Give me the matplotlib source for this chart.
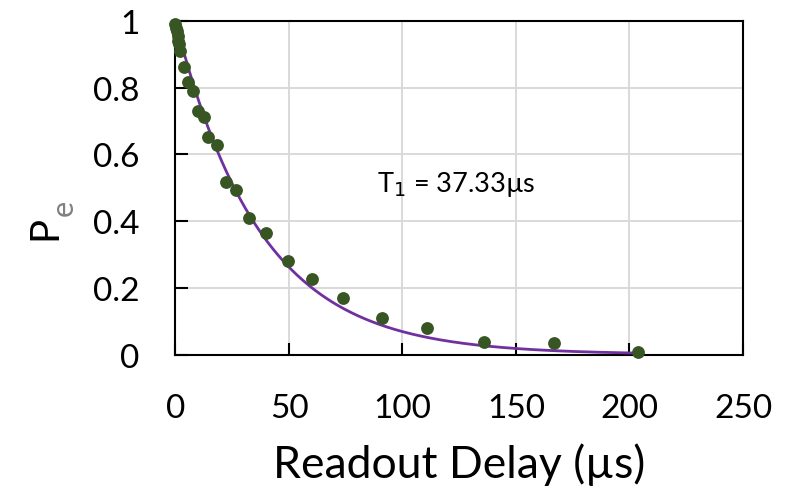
import numpy as np
import matplotlib
matplotlib.use("Agg")
from matplotlib import pyplot as plt

# dados (atraso em us, populacao excitada)
atraso = [0, 0.3, 0.6, 1.0, 1.3, 1.7, 2.0, 3.9, 5.4, 7.8, 10.0, 12.7, 14.4, 18.1,
          22.2, 26.7, 32.4, 39.9, 49.4, 60.1, 74.0, 91.0, 110.7, 136.0, 166.9, 203.9]
p_e = [0.99, 0.98, 0.97, 0.955, 0.94, 0.93, 0.911, 0.861, 0.816, 0.791, 0.731, 0.711,
       0.651, 0.628, 0.518, 0.494, 0.409, 0.364, 0.281, 0.226, 0.169, 0.109, 0.079,
       0.038, 0.034, 0.008]

# ajuste exponencial
T1 = 37.33
t_fit = np.linspace(0, 203.9, 400)
p_fit = np.exp(-t_fit / T1)

x_ticks = [0, 50, 100, 150, 200, 250]
y_ticks = [0, 0.2, 0.4, 0.6, 0.8, 1]
y_labels = ["0", "0.2", "0.4", "0.6", "0.8", "1"]

plt.rcParams['font.family'] = ['Lato', 'DejaVu Sans']

fig = plt.figure(figsize=(7.97, 4.89), dpi=100)
ax = fig.add_axes([0.2202, 0.273, 0.712, 0.682])

ax.plot(t_fit, p_fit, color='#7030A0', lw=2.0, zorder=3)
ax.plot(atraso, p_e, 'o', color='#375623', ms=8.2, zorder=4, clip_on=False)

ax.set_xlim(0, 250)
ax.set_ylim(0, 1)
ax.set_xticks(x_ticks)
ax.set_yticks(y_ticks)
ax.set_yticklabels(y_labels)
ax.grid(True, color='#d9d9d9', lw=1.4)
ax.set_axisbelow(True)

for s in ax.spines.values():
    s.set_linewidth(1.5)
    s.set_color('black')

ax.tick_params(axis='both', direction='in', length=9, width=1.5,
               labelsize=24, colors='black')
ax.tick_params(axis='x', pad=28)
ax.tick_params(axis='y', pad=26)

ax.set_xlabel("Readout Delay (µs)", fontsize=32, labelpad=14)

# rotulo do eixo y: P com indice e em cinza
fig.text(45 / 797, 1 - 228 / 489, "P", rotation=90, fontsize=29,
         ha='center', va='center')
fig.text(64 / 797, 1 - 208 / 489, "e", rotation=90, fontsize=22,
         ha='center', va='center', color='#808080')

ax.text(123.6, 0.514, "T$_1$ = 37.33µs", fontsize=19.5, ha='center', va='center')

fig.savefig("out.png", dpi=100)
